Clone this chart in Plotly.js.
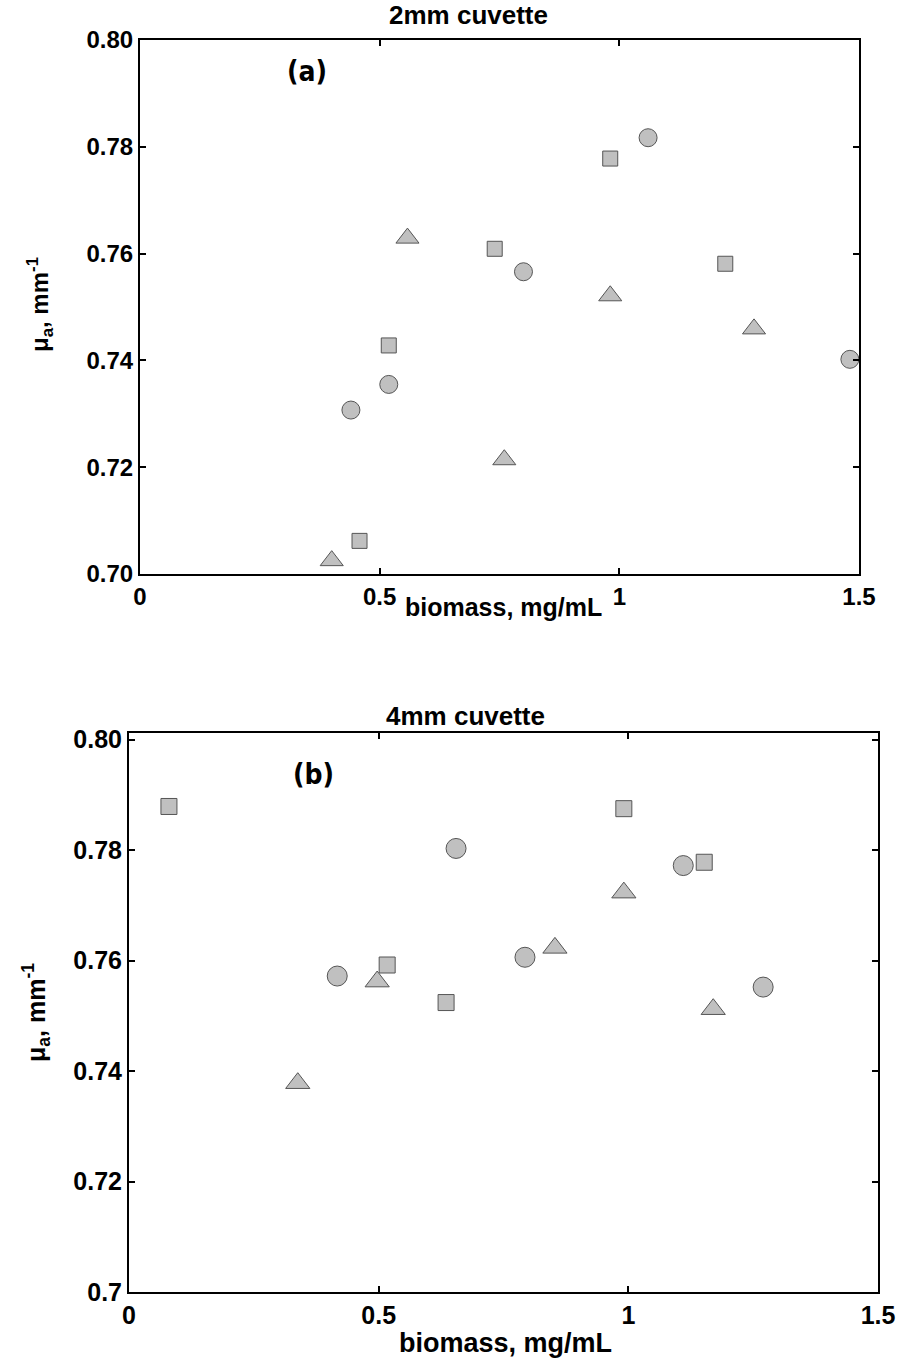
<!DOCTYPE html>
<html>
<head>
<meta charset="utf-8">
<script src="https://cdn.plot.ly/plotly-3.0.1.min.js"></script>
<style>html,body{margin:0;padding:0;background:#fff;}#chart{width:897px;height:1365px;}</style>
</head>
<body>
<div id="chart"></div>
<script>
// Panel (a): 2mm cuvette
const a_circle_x = [0.440, 0.519, 0.800, 1.060, 1.481];
const a_circle_y = [0.7307, 0.7355, 0.7566, 0.7817, 0.7402];
const a_square_x = [0.458, 0.519, 0.740, 0.981, 1.221];
const a_square_y = [0.7062, 0.7428, 0.7609, 0.7778, 0.7581];
const a_tri_x = [0.400, 0.558, 0.760, 0.981, 1.281];
const a_tri_y = [0.7025, 0.7629, 0.7214, 0.7521, 0.7459];

// Panel (b): 4mm cuvette
const b_circle_x = [0.417, 0.655, 0.793, 1.110, 1.270];
const b_circle_y = [0.7572, 0.7803, 0.7606, 0.7772, 0.7552];
const b_square_x = [0.080, 0.517, 0.635, 0.991, 1.152];
const b_square_y = [0.7879, 0.7592, 0.7524, 0.7875, 0.7778];
const b_tri_x = [0.338, 0.497, 0.853, 0.991, 1.170];
const b_tri_y = [0.7378, 0.7562, 0.7623, 0.7723, 0.7512];

const x_tickvals = [0, 0.5, 1, 1.5];
const x_ticktext = ["0", "0.5", "1", "1.5"];
const a_y_tickvals = [0.70, 0.72, 0.74, 0.76, 0.78, 0.80];
const a_y_ticktext = ["0.70", "0.72", "0.74", "0.76", "0.78", "0.80"];
const b_y_tickvals = [0.70, 0.72, 0.74, 0.76, 0.78, 0.80];
const b_y_ticktext = ["0.7", "0.72", "0.74", "0.76", "0.78", "0.80"];

const fill = "#c0c0c0";
const edge = "#555555";
function tr(x, y, sym, size, xa, ya) {
  return {x: x, y: y, mode: "markers", type: "scatter", xaxis: xa, yaxis: ya,
    marker: {symbol: sym, size: size, color: fill, line: {color: edge, width: 1}},
    showlegend: false, hoverinfo: "skip", cliponaxis: false};
}
const data = [
  tr(a_circle_x, a_circle_y, "circle", 18, "x", "y"),
  tr(a_square_x, a_square_y, "square", 15, "x", "y"),
  tr(a_tri_x, a_tri_y, "triangle-up", 20, "x", "y"),
  tr(b_circle_x, b_circle_y, "circle", 20, "x2", "y2"),
  tr(b_square_x, b_square_y, "square", 16, "x2", "y2"),
  tr(b_tri_x, b_tri_y, "triangle-up", 21, "x2", "y2"),
];

const W = 897, H = 1365;
const FF = "Liberation Sans, Arial, sans-serif";
function axisBase(fs) {
  return {showline: true, linecolor: "#000", linewidth: 2, mirror: "ticks", ticks: "inside",
    ticklen: 6, tickwidth: 2, tickcolor: "#000", showgrid: false, zeroline: false,
    tickfont: {family: FF, size: fs, color: "#000", weight: "bold"}, tickmode: "array", fixedrange: true};
}
function ann(text, x, y, size, extra) {
  return Object.assign({text: text, x: x / W, y: 1 - y / H, xref: "paper", yref: "paper", showarrow: false,
    xanchor: "center", yanchor: "middle",
    font: {family: FF, size: size, color: "#000"}}, extra || {});
}
const narrow = "Liberation Sans Narrow, DejaVu Sans Condensed, sans-serif";
const layout = {
  width: W, height: H, margin: {l: 0, r: 0, t: 0, b: 0},
  paper_bgcolor: "#fff", plot_bgcolor: "#fff",
  xaxis: Object.assign(axisBase(24), {domain: [140 / W, 859 / W], range: [0, 1.5], anchor: "y",
    tickvals: x_tickvals, ticktext: x_ticktext}),
  yaxis: Object.assign(axisBase(24), {domain: [1 - 574 / H, 1 - 40 / H], range: [0.70, 0.80], anchor: "x",
    tickvals: a_y_tickvals, ticktext: a_y_ticktext}),
  xaxis2: Object.assign(axisBase(25), {domain: [129 / W, 878 / W], range: [0, 1.5], anchor: "y2",
    tickvals: x_tickvals, ticktext: x_ticktext}),
  yaxis2: Object.assign(axisBase(25), {domain: [1 - 1292 / H, 1 - 733 / H], range: [0.70, 0.8012], anchor: "x2",
    tickvals: b_y_tickvals, ticktext: b_y_ticktext}),
  annotations: [
    ann("<b>2mm cuvette</b>", 468, 15, 26),
    ann("<b>4mm cuvette</b>", 466, 716, 26),
    ann("<b>biomass, mg/mL</b>", 503, 607, 25),
    ann("<b>biomass, mg/mL</b>", 505, 1343, 27),
    ann("<b>\u03bc<sub>a</sub>, mm<sup>-1</sup></b>", 40, 305, 24, {textangle: -90}),
    ann("<b>\u03bc<sub>a</sub>, mm<sup>-1</sup></b>", 36, 1013, 25, {textangle: -90}),
    ann("<b>(a)</b>", 307, 71, 28, {font: {family: narrow, size: 28, color: "#000"}}),
    ann("<b>(b)</b>", 313, 774, 28, {font: {family: narrow, size: 28, color: "#000"}}),
  ],
};
Plotly.newPlot("chart", data, layout, {staticPlot: true, displayModeBar: false});
</script>
</body>
</html>
